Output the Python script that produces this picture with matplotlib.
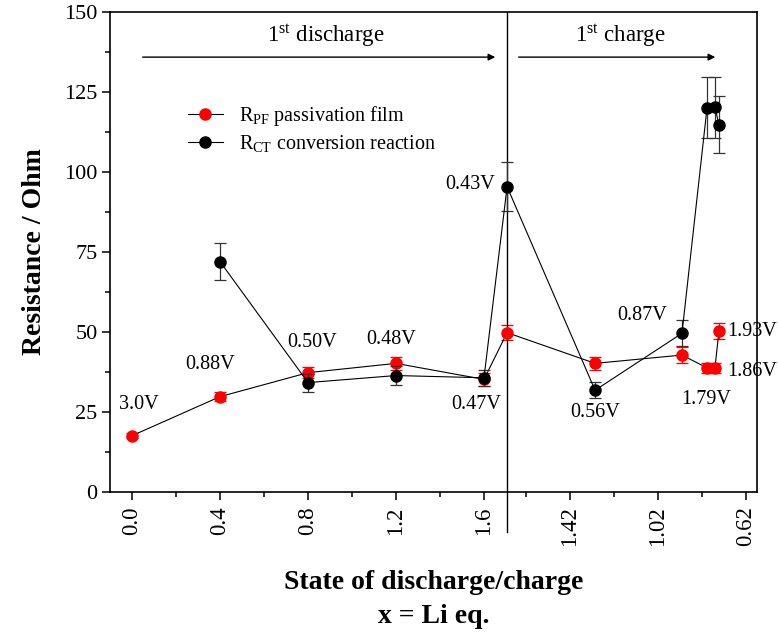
import numpy as np
import matplotlib.pyplot as plt

plt.rcParams['font.family'] = 'Liberation Serif'
plt.rcParams['mathtext.fontset'] = 'custom'
plt.rcParams['mathtext.rm'] = 'Liberation Serif'
plt.rcParams['mathtext.it'] = 'Liberation Serif:italic'
plt.rcParams['mathtext.bf'] = 'Liberation Serif:bold'

# state of discharge / charge (x = Li eq.)
x_discharge = [0.0, 0.4, 0.8, 1.2, 1.6, 1.705]
x_charge = [1.305, 0.91, 0.796, 0.76, 0.742]
x_turn = 1.705

voltages = ['3.0V', '0.88V', '0.50V', '0.48V', '0.47V', '0.43V',
            '0.56V', '0.87V', '1.79V', '1.86V', '1.93V']

r_pf = [17.6, 29.8, 37.3, 40.2, 35.2, 49.8, 40.2, 42.8, 38.8, 38.8, 50.3]
r_pf_err = [0.8, 1.5, 1.8, 2.0, 2.0, 2.3, 2.0, 2.5, 1.5, 1.5, 2.5]
r_ct = [np.nan, 72.0, 34.2, 36.4, 35.7, 95.4, 31.8, 49.6, 120.1, 120.2, 114.8]
r_ct_err = [np.nan, 5.7, 2.8, 3.0, 2.5, 7.7, 2.5, 4.0, 9.6, 9.6, 9.0]

# tick labels
dis_ticks = [0.0, 0.4, 0.8, 1.2, 1.6]
chg_ticks = [1.42, 1.02, 0.62]
dis_minor = [0.2, 0.6, 1.0, 1.4]
chg_minor = [1.62, 1.22, 0.82]

# label positions (axis position, resistance, alignment)
label_pos = [(0.032, 27.5, 'center'), (0.355, 39.7, 'center'), (0.82, 46.6, 'center'),
             (1.18, 47.8, 'center'), (1.565, 27.2, 'center'), (1.536, 96.0, 'center'),
             (2.105, 25.0, 'center'), (2.32, 55.3, 'center'), (2.61, 28.8, 'center'),
             (2.705, 37.8, 'left'), (2.705, 50.3, 'left')]

# charge branch is mirrored about the turning point
pos = x_discharge + [2 * x_turn - v for v in x_charge]

fig = plt.figure(figsize=(7.78, 6.38), dpi=100)
ax = fig.add_axes([0.1414, 0.2288, 0.8316, 0.7524])

ax.errorbar(pos, r_pf, yerr=r_pf_err, fmt='none', ecolor='red',
            elinewidth=0.9, capsize=4, capthick=0.9, zorder=2)
l1, = ax.plot(pos, r_pf, '-', color='black', lw=0.8, marker='o',
              mfc='red', mec='red', ms=8, zorder=3)
ax.errorbar(pos, r_ct, yerr=r_ct_err, fmt='none', ecolor='#333333',
            elinewidth=0.9, capsize=4, capthick=0.9, zorder=4)
l2, = ax.plot(pos, r_ct, '-', color='black', lw=0.8, marker='o',
              mfc='black', mec='black', ms=8, zorder=5)

ax.axvline(x_turn, ymin=-0.083, ymax=1, color='black', lw=1, clip_on=False)

for txt, (px, py, ha) in zip(voltages, label_pos):
    ax.text(px, py, txt, fontsize=14.5, ha=ha, va='center')

ax.annotate('', xy=(1.664, 135.9), xytext=(0.036, 135.9),
            arrowprops=dict(arrowstyle='-|>', color='black', lw=1, mutation_scale=10))
ax.annotate('', xy=(2.664, 135.9), xytext=(1.745, 135.9),
            arrowprops=dict(arrowstyle='-|>', color='black', lw=1, mutation_scale=10))
ax.text(0.88, 142.5, r'1$^{\rm st}$ discharge', fontsize=16.5, ha='center', va='center')
ax.text(2.22, 142.5, r'1$^{\rm st}$ charge', fontsize=16.5, ha='center', va='center')

ax.legend([l1, l2], [r'R$_{\rm PF}$ passivation film', r'R$_{\rm CT}$ conversion reaction'],
          loc='upper left', bbox_to_anchor=(0.092, 0.846), frameon=False,
          fontsize=14.5, handlelength=1.75, handletextpad=0.8, labelspacing=0.25)

ax.set_xlim(-0.1, 2.841)
ax.set_ylim(0, 150)
ax.set_yticks(np.arange(0, 151, 25))
ax.set_yticks(np.arange(12.5, 150, 25), minor=True)

ax.set_xticks(dis_ticks + [2 * x_turn - v for v in chg_ticks])
ax.set_xticklabels([f'{v:.1f}' for v in dis_ticks] + [f'{v:.2f}' for v in chg_ticks],
                   rotation=90)
ax.set_xticks(dis_minor + [2 * x_turn - v for v in chg_minor], minor=True)

ax.tick_params(axis='both', which='major', direction='out', length=5.5, width=1.1,
               top=False, right=False)
ax.tick_params(axis='both', which='minor', direction='out', length=3.5, width=1.1,
               top=False, right=False)
ax.tick_params(axis='y', labelsize=16)
ax.tick_params(axis='x', labelsize=16.5, pad=5)
for s in ax.spines.values():
    s.set_linewidth(1.2)

ax.set_ylabel('Resistance / Ohm', fontsize=20, fontweight='bold', labelpad=12)
ax.set_xlabel('State of discharge/charge\nx = Li eq.', fontsize=20,
              fontweight='bold', labelpad=17, linespacing=1.45)

fig.savefig('out.png', dpi=100)
